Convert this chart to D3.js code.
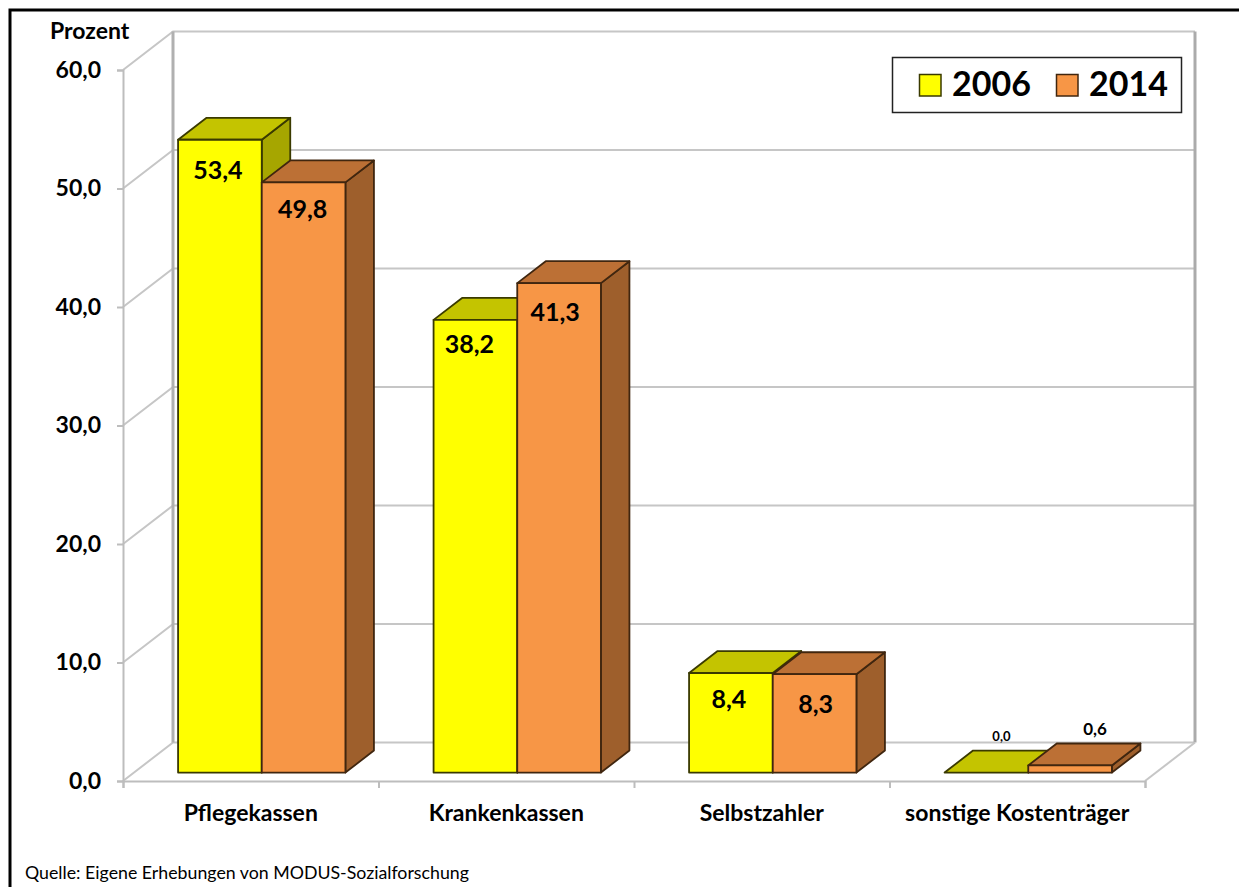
<!DOCTYPE html>
<html>
<head>
<meta charset="utf-8">
<style>
  html, body { margin: 0; padding: 0; background: #fff; overflow: hidden; }
  text { font-family: Lato, "Open Sans", sans-serif; fill: #000; }
</style>
<script src="https://cdn.jsdelivr.net/npm/d3@7"></script>
</head>
<body>
<script>
const categories = ["Pflegekassen", "Krankenkassen", "Selbstzahler", "sonstige Kostenträger"]
const years = ["2006", "2014"]
const values2006 = [53.4, 38.2, 8.4, 0.0]
const values2014 = [49.8, 41.3, 8.3, 0.6]
const yTicks = [0, 10, 20, 30, 40, 50, 60]

// the labels in the original were moved by hand, [dx, dy] per label from its default spot
const labelNudge2006 = [[-2, 5], [-6, -1], [-2, 1], [15, 6]]
const labelNudge2014 = [[-1, 2], [-4, 4], [1, 5], [25, 7]]

const w = 1239
const h = 887

const svg = d3.select("body")
  .append("svg")
  .attr("width", w)
  .attr("height", h)
  .style("display", "block")

const x0 = 123
const x1 = 1145
const xScale = d3.scaleBand()
  .domain(categories)
  .range([x0, x1])
  .paddingInner(0.345)
  .paddingOuter(0.1725)

const xSub = d3.scaleBand()
  .domain(years)
  .range([0, xScale.bandwidth()])

const yScale = d3.scaleLinear()
  .domain([0, 60])
  .range([781, 70])

// depth of the 3d box: z 0 is the front edge, z 1 the back wall
const zx = d3.scaleLinear().domain([0, 1]).range([0, 50])
const zy = d3.scaleLinear().domain([0, 1]).range([0, -38.5])
const px = (x, z) => x + zx(z)
const py = (y, z) => y + zy(z)
const pts = arr => arr.map(p => p.join(",")).join(" ")

const grid = svg.append("g")
  .attr("fill", "none")
  .attr("stroke", "#c6c6c6")
  .attr("stroke-width", 2)

yTicks.forEach(t => {
  grid.append("polyline")
    .attr("points", pts([
      [x0, yScale(t)],
      [px(x0, 1), py(yScale(t), 1)],
      [px(x1, 1), py(yScale(t), 1)]
    ]))
})
grid.append("line")
  .attr("x1", px(x0, 1)).attr("x2", px(x0, 1))
  .attr("y1", py(yScale(60), 1)).attr("y2", py(yScale(0), 1))
  .attr("stroke", "#b0b0b0")
  .attr("stroke-width", 3)
grid.append("line")
  .attr("x1", px(x1, 1)).attr("x2", px(x1, 1))
  .attr("y1", py(yScale(60), 1)).attr("y2", py(yScale(0), 1))
  .attr("stroke", "#ababab")
  .attr("stroke-width", 3)
grid.append("line")
  .attr("x1", x1).attr("x2", px(x1, 1))
  .attr("y1", yScale(0)).attr("y2", py(yScale(0), 1))

const yAxis = d3.axisLeft(yScale)
  .tickValues(yTicks)
  .tickSize(6)
  .tickPadding(16)
  .tickFormat(d => d3.format(".1f")(d).replace(".", ","))

const xTickScale = d3.scaleLinear().domain([0, 4]).range([x0, x1])
const xAxis = d3.axisBottom(xTickScale)
  .tickValues(d3.range(5))
  .tickSize(7)
  .tickFormat("")

const gy = svg.append("g")
  .attr("transform", `translate(${x0}, 0)`)
  .call(yAxis)
gy.selectAll("text")
  .attr("font-size", 23)
  .attr("font-weight", 700)
  .style("font-family", "Lato")
const gx = svg.append("g")
  .attr("transform", `translate(0, ${yScale(0)})`)
  .call(xAxis)
svg.selectAll(".domain, .tick line")
  .attr("stroke", "#bdbdbd")
  .attr("stroke-width", 2)

svg.append("g")
  .selectAll("text")
  .data(categories)
  .enter()
  .append("text")
  .attr("x", d => xScale(d) + xScale.bandwidth() / 2)
  .attr("y", 821)
  .attr("text-anchor", "middle")
  .attr("font-size", 23)
  .attr("font-weight", 700)
  .text(d => d)

const series = [
  { year: "2006", values: values2006, nudge: labelNudge2006, front: "#ffff00", top: "#c4c400", side: "#a6a600", edge: "#3a3a00" },
  { year: "2014", values: values2014, nudge: labelNudge2014, front: "#f79646", top: "#bc7035", side: "#9e5f2c", edge: "#40260f" }
]

const zFront = 0.22
const zBack = 0.79
const baseY = yScale(0)

series.forEach(s => {
  const g = svg.append("g")
    .attr("stroke", s.edge)
    .attr("stroke-width", 1.8)
    .attr("stroke-linejoin", "round")

  categories.forEach((c, i) => {
    const l = xScale(c) + xSub(s.year)
    const r = l + xSub.bandwidth()
    const yTop = yScale(s.values[i])

    g.append("polygon")
      .attr("fill", s.side)
      .attr("points", pts([
        [px(r, zFront), py(yTop, zFront)],
        [px(r, zBack), py(yTop, zBack)],
        [px(r, zBack), py(baseY, zBack)],
        [px(r, zFront), py(baseY, zFront)]
      ]))
    g.append("polygon")
      .attr("fill", s.top)
      .attr("points", pts([
        [px(l, zFront), py(yTop, zFront)],
        [px(l, zBack), py(yTop, zBack)],
        [px(r, zBack), py(yTop, zBack)],
        [px(r, zFront), py(yTop, zFront)]
      ]))
    g.append("rect")
      .attr("fill", s.front)
      .attr("x", px(l, zFront))
      .attr("y", py(yTop, zFront))
      .attr("width", r - l)
      .attr("height", baseY - yTop)
  })
})

// value labels go on top so the next bar doesn't cover them
series.forEach(s => {
  categories.forEach((c, i) => {
    const v = s.values[i]
    const small = v < 1
    const cx = px(xScale(c) + xSub(s.year) + xSub.bandwidth() / 2, zFront)
    const yTop = py(yScale(v), zFront)
    svg.append("text")
      .attr("x", cx + s.nudge[i][0])
      .attr("y", small ? yTop + zy(0.81) - 6 + s.nudge[i][1] : yTop + 34 + s.nudge[i][1])
      .attr("text-anchor", "middle")
      .attr("font-size", small ? (v === 0 ? 13 : 17) : 25)
      .attr("font-weight", 700)
      .text(d3.format(".1f")(v).replace(".", ","))
  })
})

svg.append("text")
  .attr("x", 50)
  .attr("y", 39)
  .attr("font-size", 23)
  .attr("font-weight", 700)
  .text("Prozent")

const legend = svg.append("g")
legend.append("rect")
  .attr("x", 892.5)
  .attr("y", 57.5)
  .attr("width", 289)
  .attr("height", 55)
  .attr("fill", "#fff")
  .attr("stroke", "#222")
  .attr("stroke-width", 1.5)

const legendX = d3.scalePoint().domain(years).range([919.5, 1056.5])
series.forEach(s => {
  legend.append("rect")
    .attr("x", legendX(s.year))
    .attr("y", 74.5)
    .attr("width", 21.5)
    .attr("height", 21.5)
    .attr("fill", s.front)
    .attr("stroke", s.edge)
    .attr("stroke-width", 1.5)
  legend.append("text")
    .attr("x", legendX(s.year) + 32.5)
    .attr("y", 96)
    .attr("font-size", 34)
    .attr("font-weight", 700)
    .text(s.year)
})

svg.append("text")
  .attr("x", 25)
  .attr("y", 879)
  .attr("font-size", 17.75)
  .text("Quelle: Eigene Erhebungen von MODUS-Sozialforschung")

svg.append("rect")
  .attr("x", 10)
  .attr("y", 10)
  .attr("width", w)
  .attr("height", h)
  .attr("fill", "none")
  .attr("stroke", "#000")
  .attr("stroke-width", 3)
</script>
</body>
</html>
